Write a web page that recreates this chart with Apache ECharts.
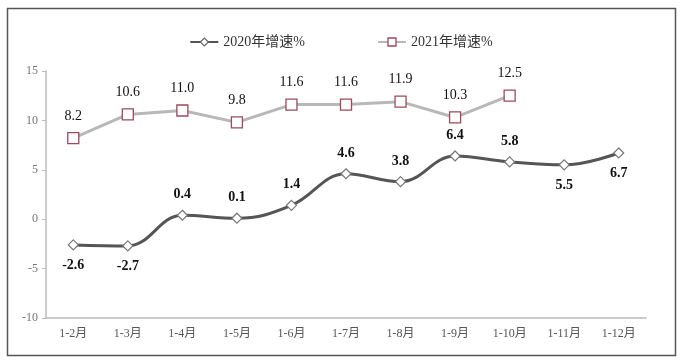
<!DOCTYPE html>
<html><head><meta charset="utf-8">
<script src="https://cdn.jsdelivr.net/npm/echarts@6/dist/echarts.min.js"></script>
<style>html,body{margin:0;padding:0;background:#fff}#c{width:682px;height:363px}</style>
</head><body><div id="c"></div>
<script>
const categories = ['1-2月','1-3月','1-4月','1-5月','1-6月','1-7月','1-8月','1-9月','1-10月','1-11月','1-12月'];
const series2020 = [-2.6,-2.7,0.4,0.1,1.4,4.6,3.8,6.4,5.8,5.5,6.7];
const series2021 = [8.2,10.6,11.0,9.8,11.6,11.6,11.9,10.3,12.5];
const below2020 = [true,true,false,false,false,false,false,false,false,true,true];
const yTicks = {min:-10,max:15,interval:5};
const names = ['2020年增速%','2021年增速%'];

const serif = '"Liberation Serif","DejaVu Serif","Noto Sans CJK SC",serif';
const chart = echarts.init(document.getElementById('c'));
chart.setOption({
  animation:false,
  backgroundColor:'#fff',
  graphic:[{type:'rect',shape:{x:7.5,y:8.5,width:668,height:347},style:{fill:'none',stroke:'#555',lineWidth:1.5}}],
  legend:{
    top:30, left:'center', itemGap:72, itemWidth:28, itemHeight:10,
    textStyle:{fontFamily:serif,fontSize:14,color:'#333'},
    data:[
      {name:names[0],itemStyle:{color:'#fff',borderColor:'#666',borderWidth:1.2}},
      {name:names[1],itemStyle:{color:'#fff',borderColor:'#9a4a5f',borderWidth:1.3}}
    ]
  },
  grid:{left:46,right:36,top:71,bottom:45},
  xAxis:{
    type:'category', data:categories, boundaryGap:true,
    axisLine:{onZero:false,lineStyle:{color:'#bbb',width:1.5}},
    axisTick:{show:false},
    axisLabel:{fontFamily:serif,fontSize:12,color:'#555',margin:10}
  },
  yAxis:{
    type:'value', min:yTicks.min, max:yTicks.max, interval:yTicks.interval,
    axisLine:{show:true,lineStyle:{color:'#bbb',width:1.5}},
    axisTick:{show:true,length:4,lineStyle:{color:'#bbb'}},
    splitLine:{show:false},
    axisLabel:{fontFamily:serif,fontSize:12,color:'#777',margin:8}
  },
  series:[
    {
      name:names[0], type:'line', smooth:0.4,
      data:series2020.map((v,i)=>({value:v,label:{position:below2020[i]?'bottom':'top'}})),
      symbol:'diamond', symbolSize:10, showAllSymbol:true,
      lineStyle:{color:'#555',width:3},
      itemStyle:{color:'#fff',borderColor:'#777',borderWidth:1.2},
      label:{show:true,distance:8,fontFamily:serif,fontSize:14,fontWeight:'bold',color:'#111',formatter:p=>p.value.toFixed(1)},
      z:3
    },
    {
      name:names[1], type:'line',
      data:series2021,
      symbol:'rect', symbolSize:11, showAllSymbol:true,
      lineStyle:{color:'#b8b8b8',width:3},
      itemStyle:{color:'#fff',borderColor:'#9a4a5f',borderWidth:1.3},
      label:{show:true,position:'top',distance:9,fontFamily:serif,fontSize:14,color:'#111',formatter:p=>p.value.toFixed(1)},
      z:2
    }
  ]
});
</script></body></html>
